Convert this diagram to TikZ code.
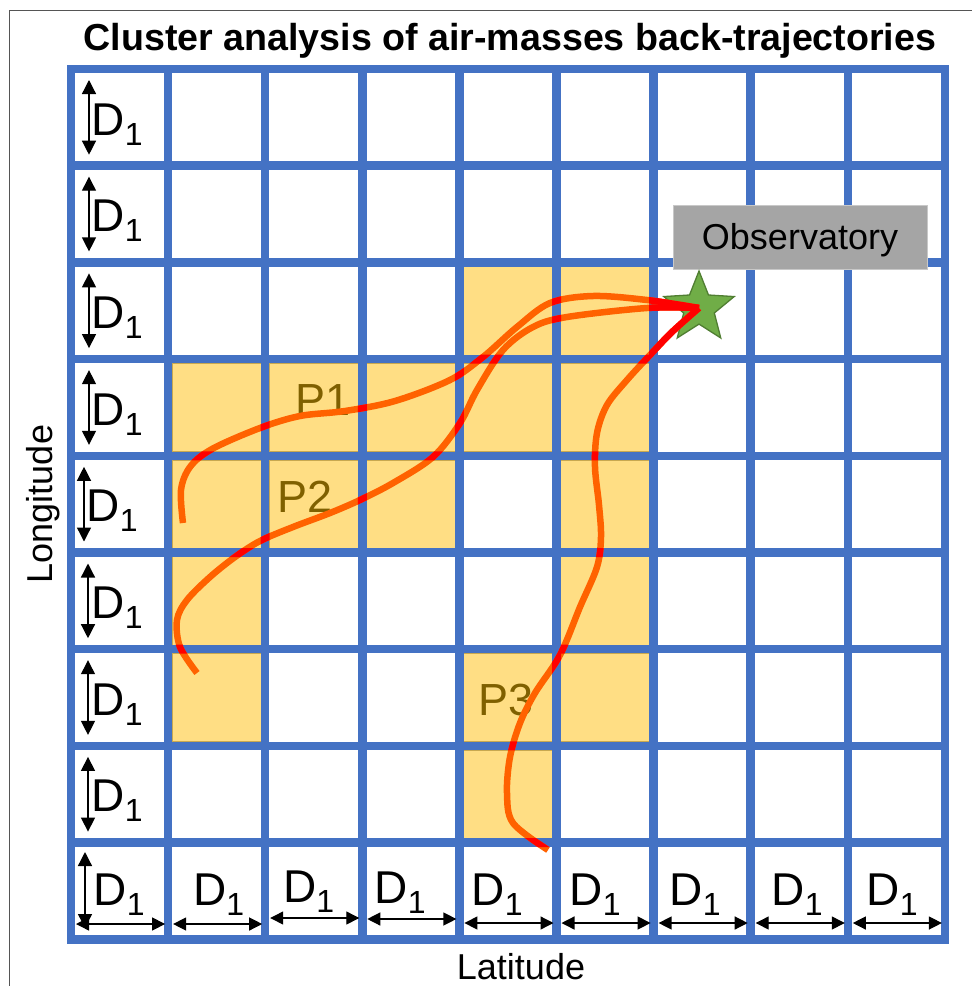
\documentclass[tikz,border=0pt]{standalone}
\usepackage{fontspec}
\setmainfont{Liberation Sans}
\usetikzlibrary{arrows.meta,shapes.geometric}
\definecolor{gridblue}{HTML}{4472C4}
\definecolor{cellyellow}{HTML}{FFDE84}
\definecolor{cellborder}{HTML}{C8A850}
\definecolor{trajorange}{HTML}{FF6200}
\definecolor{trajred}{HTML}{FF0000}
\definecolor{plabel}{HTML}{7F6000}
\definecolor{obsgray}{HTML}{A5A5A5}
\definecolor{obsborder}{HTML}{C8C8C8}
\definecolor{stargreen}{HTML}{70AD47}
\definecolor{stardark}{HTML}{507E32}
\definecolor{framegray}{HTML}{555555}
\newcommand{\DoneLabel}{{\fontsize{46}{46}\selectfont D}\raisebox{-10pt}{\fontsize{32}{32}\selectfont 1}}
\begin{document}
\begin{tikzpicture}[x=1pt,y=-1pt,
  gridline/.style={draw=gridblue,line width=8.5pt,line cap=rect},
  ycell/.style={fill=cellyellow,draw=cellborder,line width=0.8pt},
  dimarrow/.style={draw=black,line width=1.3pt,{Triangle[width=14pt,length=14pt]}-{Triangle[width=14pt,length=14pt]}},
  harrow/.style={draw=black,line width=1.3pt,{Triangle[width=13pt,length=13pt]}-{Triangle[width=13pt,length=13pt]}},
  dlabel/.style={anchor=base west,inner sep=0pt,text=black},
  plab/.style={anchor=base,inner sep=0pt,text=plabel,font=\fontsize{45}{45}\selectfont},
  axlab/.style={anchor=base,inner sep=0pt,text=black,font=\fontsize{36}{36}\selectfont},
  traj/.style={line width=6.5pt},
  obsbox/.style={fill=obsgray,draw=obsborder,line width=0.8pt,minimum width=254pt,minimum height=64pt,inner sep=0pt,text height=25.8pt,text depth=0pt,font=\fontsize{36}{36}\selectfont},
  starnode/.style={star,star points=5,star point ratio=2.3,minimum size=74pt,inner sep=0pt,fill=stargreen,draw=stardark,line width=1.3pt}
]
\useasboundingbox (0,0) rectangle (972,986);
\fill[white] (0,0) rectangle (972,986);
% frame
\draw[framegray,line width=1pt] (9,986) -- (9,10.5) -- (972,10.5);
% title
\node[anchor=base,inner sep=0pt,font=\fontsize{37.6}{37.6}\selectfont\bfseries] (title) at (510,50) {Cluster analysis of air-masses back-trajectories};
% yellow cells
\foreach \c/\r in {4/2,5/2,1/3,2/3,3/3,4/3,5/3,1/4,2/4,3/4,5/4,1/5,5/5,1/6,4/6,5/6,4/7}
  \filldraw[ycell] ({71+97.1*\c+4.2},{69+96.7*\r+4.2}) rectangle ({71+97.1*(\c+1)-4.2},{69+96.7*(\r+1)-4.2});
% grid
\foreach \k in {0,...,9} {
  \draw[gridline] ({71+97.1*\k},69) -- ({71+97.1*\k},939.3);
  \draw[gridline] (71,{69+96.7*\k}) -- (944.9,{69+96.7*\k});
}
% P labels
\node[plab] (p1) at (323,415) {P1};
\node[plab] (p2) at (305,512) {P2};
\node[plab] (p3) at (506,715) {P3};
% left column dimension labels
\foreach \r/\ax/\lx in {0/89/91.5,1/89/91.5,2/89/91.5,3/89/91.5,4/84/86.5,5/88/91.5,6/88/91.5,7/88/91.5} {
  \coordinate (va\r) at (\ax,{69+96.7*\r+11});
  \coordinate (vb\r) at (\ax,{69+96.7*(\r+1)-11});
  \draw[dimarrow] (va\r) -- (vb\r);
  \node[dlabel] (dl\r) at (\lx,{69+96.7*\r+66}) {\DoneLabel};
}
% bottom row
\coordinate (bva) at (85,852);
\coordinate (bvb) at (85,928);
\draw[dimarrow] (bvb) -- (bva);
\foreach \c/\ay/\lx/\ly in {0/924/93.5/905,1/924/193/905,2/918/283/902,3/919/374.5/903,4/923/471.5/905,5/923/569.5/905,6/923/669.5/905,7/923/771.5/905,8/923/866.5/905} {
  \coordinate (ha\c) at ({71+97.1*\c+5},\ay);
  \coordinate (hb\c) at ({71+97.1*(\c+1)-3},\ay);
  \draw[harrow] (ha\c) -- (hb\c);
  \node[dlabel] (bl\c) at (\lx,\ly) {\DoneLabel};
}
% axis labels
\node[axlab,rotate=90] (lon) at (52,504) {Longitude};
\node[axlab] (lat) at (521,979) {Latitude};
% observatory
\node[obsbox] (obs) at (800,237) {Observatory};
\node[starnode] (star) at (699,308) {};
% trajectories
\coordinate (s1) at (183,523);
\coordinate (s2) at (197,673);
\coordinate (s3) at (548,850);
\def\trajone{plot[smooth,tension=0.55] coordinates {(s1) (181,490) (190,467) (212,449) (260,428) (300,416) (345,411) (395,401) (450,380) (483,357) (517,327) (550,303) (593,296) (647,300) (star.center)}}
\def\trajtwo{plot[smooth,tension=0.55] coordinates {(s2) (180,647) (177,620) (187,600) (210,577) (235,557) (260,541) (293,527) (330,513) (360,500) (393,483) (433,457) (460,423) (477,390) (503,350) (533,327) (567,317) (647,308) (star.center)}}
\def\trajthree{plot[smooth,tension=0.55] coordinates {(s3) (513,823) (507,793) (510,757) (520,723) (535,693) (560,655) (580,607) (597,567) (601,537) (599,505) (595,467) (597,433) (607,405) (627,380) (650,355) (672,332) (star.center)}}
\draw[traj,trajorange] \trajone;
\draw[traj,trajorange] \trajtwo;
\draw[traj,trajorange] \trajthree;
\begin{scope}
  \clip \foreach \k in {0,...,9} { ({71+97.1*\k-4.5},60) rectangle ({71+97.1*\k+4.5},950) (60,{69+96.7*\k-4.5}) rectangle (955,{69+96.7*\k+4.5}) } (653.6,262.4) rectangle (750.7,359.1);
  \draw[traj,trajred] \trajone;
  \draw[traj,trajred] \trajtwo;
  \draw[traj,trajred] \trajthree;
\end{scope}
\end{tikzpicture}
\end{document}
